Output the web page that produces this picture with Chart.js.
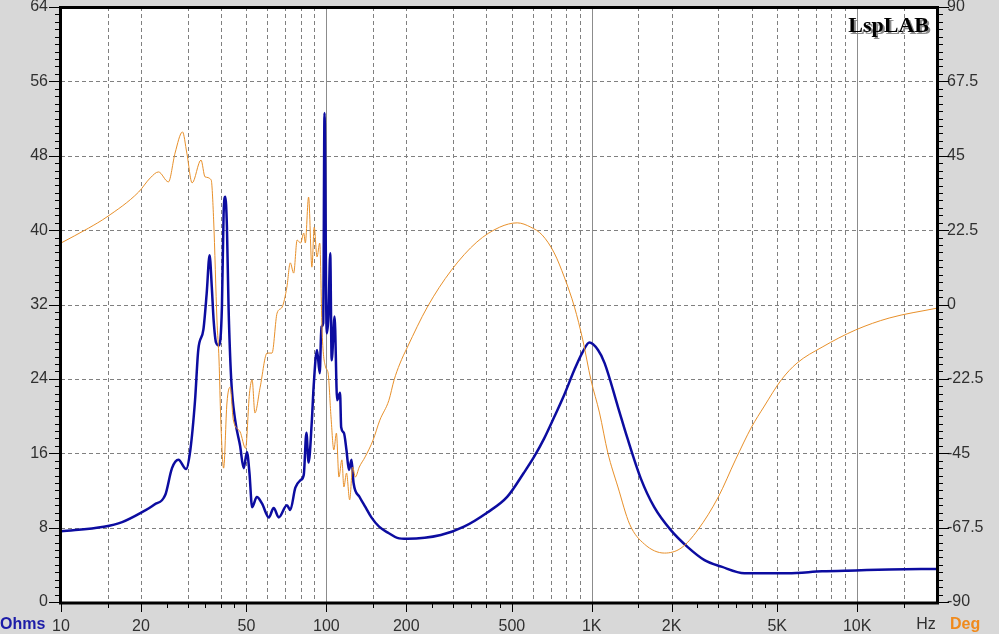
<!DOCTYPE html>
<html>
<head>
<meta charset="utf-8">
<title>Impedance and phase</title>
<script src="https://cdn.jsdelivr.net/npm/chart.js@4.4.1/dist/chart.umd.min.js"></script>
<style>
	html, body { margin: 0; padding: 0; background: #d8d8d8; }
	canvas { display: block; }
</style>
</head>
<body>
<canvas id="chart" width="999" height="634"></canvas>
<script>
// impedance curve (Ohms, left axis)
const impFreq = [10, 14.5, 17, 20, 22.5, 24.7, 26.2, 27.7, 29.6, 30.7, 32, 32.9, 34.4, 35.4, 36.3, 37, 37.6, 38.4, 39.4, 40.4, 41, 41.6, 42.2, 42.8, 43.8, 45.3, 47.3, 48.8, 50.2, 51.3, 52.5, 54.7, 57.2, 60.7, 63.3, 66.2, 71, 73.1, 76.4, 79.9, 82.2, 84.1, 85.7, 88.2, 89.5, 92.2, 94.4, 95.8, 97.3, 98.4, 100.3, 101.8, 103.4, 104.7, 107.4, 109.8, 112.6, 113.7, 116.4, 119.1, 121.6, 124.4, 126.6, 133.4, 140.4, 147.8, 158, 172, 185, 202, 270, 330, 403, 480, 555, 606, 662, 722, 788, 861, 925, 980, 1056, 1118, 1255, 1360, 1530, 1720, 1990, 2300, 2660, 3080, 3760, 5480, 7380, 9870, 13200, 20000];
const impOhms = [7.6, 8.1, 8.6, 9.6, 10.5, 11.5, 14.4, 15.3, 14.3, 16.3, 21.7, 27.1, 29.3, 33.2, 37.3, 33.9, 30.3, 27.9, 27.6, 31.7, 41.8, 43.6, 40.3, 31.7, 23.9, 19.6, 16.8, 14.4, 16.1, 13.9, 10.2, 11.3, 10.6, 9.1, 10.1, 9.1, 10.4, 9.9, 12.3, 13.1, 13.7, 18.2, 15, 19.6, 23.1, 27.1, 24.6, 29.6, 30, 52.6, 28.9, 30.7, 37.5, 26, 30.7, 21.7, 22.5, 18.8, 18.2, 16.3, 14.2, 15.3, 12.8, 11.3, 10.2, 9.1, 8.1, 7.4, 6.9, 6.8, 7.2, 8.1, 9.6, 11.3, 13.9, 15.6, 17.6, 19.9, 22.3, 25, 26.9, 27.9, 27.1, 25.7, 21, 17.7, 13.3, 10.2, 7.7, 5.9, 4.5, 3.8, 3.1, 3.1, 3.3, 3.4, 3.5, 3.55];

// phase curve (degrees, right axis)
const phaseFreq = [10, 12.7, 14.9, 19.6, 21.7, 23.3, 25.4, 26.9, 28.7, 29.8, 31.2, 33.7, 34.9, 36.8, 37.6, 38.7, 39.4, 40, 41, 42.2, 43.4, 44.6, 47.3, 49.6, 51.3, 52.5, 53.8, 56.3, 59.8, 62.4, 65.2, 68.1, 71, 73.1, 75.3, 77.6, 79.9, 82.2, 83.3, 85.7, 88.2, 90, 92.2, 94.4, 96.4, 99.3, 101.5, 104.1, 106.7, 109.1, 111.5, 114.4, 116.4, 119.1, 122.4, 125.6, 128.6, 133, 140, 150, 159, 172, 180, 189, 202, 240, 296, 369, 450, 524, 589, 651, 722, 788, 861, 925, 993, 1070, 1150, 1255, 1390, 1580, 1880, 2170, 2510, 3000, 3480, 4000, 4450, 5180, 5940, 7380, 9870, 13200, 20000];
const phaseDeg = [18.6, 23.1, 26.5, 34, 38.3, 40.1, 37.1, 45.8, 52.2, 45.8, 36.8, 43.7, 38.6, 37.7, 25.6, -4.7, -16.8, -34.9, -49.5, -29.8, -25, -34.9, -38.5, -43.5, -27, -22.8, -32.8, -25, -14.7, -14.7, -2.6, -0.8, 5.3, 12.6, 9.5, 19.5, 18.6, 21.6, 18.6, 32.5, 11.3, 23.4, 14.4, 18.6, -8.6, -18.9, -20.7, -34, -44, -38.9, -52.2, -47, -55.2, -51, -59.1, -49.2, -52.2, -49.2, -46.1, -41, -35, -29, -22.8, -18, -12.9, -0.8, 10.4, 18.9, 23.4, 24.7, 23.4, 21, 15.6, 8.3, -0.8, -10.7, -22.8, -32.8, -44.9, -55.2, -66.5, -72.5, -75.2, -73.7, -68.2, -58.2, -47, -37.1, -31, -22.8, -17.7, -12.9, -7.7, -4.1, -1.1];

// axes
const freqLabelTicks = [10, 20, 50, 100, 200, 500, 1000, 2000, 5000, 10000];
const freqMinorTicks = [15, 25, 30, 35, 40, 45, 150, 250, 300, 350, 400, 450, 1500, 2500, 3000, 3500, 4000, 4500, 15000];
const freqDashedLines = [15, 20, 30, 40, 50, 60, 70, 80, 90, 150, 200, 300, 400, 500, 600, 700, 800, 900, 1500, 2000, 3000, 4000, 5000, 6000, 7000, 8000, 9000, 15000];
const freqSolidLines = [100, 1000, 10000];

const toPoints = (xs, ys) => xs.map((x, i) => ({ x: x, y: ys[i] }));

const framePlugin = {
	id: "frame",
	beforeDraw(chart) {
		const a = chart.chartArea;
		const ctx = chart.ctx;
		ctx.save();
		ctx.fillStyle = "#ffffff";
		ctx.fillRect(a.left, a.top, a.right - a.left, a.bottom - a.top);
		ctx.restore();
	},
	beforeDatasetsDraw(chart) {
		const a = chart.chartArea;
		const ctx = chart.ctx;
		const x = chart.scales.x;
		const y = chart.scales.y;
		ctx.save();
		ctx.lineWidth = 1;
		ctx.strokeStyle = "#808080";
		ctx.setLineDash([4, 3]);
		for (let v = 8; v < 64; v += 8) {
			const py = Math.round(y.getPixelForValue(v)) + 0.5;
			ctx.beginPath();
			ctx.moveTo(a.left, py);
			ctx.lineTo(a.right, py);
			ctx.stroke();
		}
		freqDashedLines.forEach((f) => {
			const px = Math.round(x.getPixelForValue(f)) + 0.5;
			ctx.beginPath();
			ctx.moveTo(px, a.top);
			ctx.lineTo(px, a.bottom);
			ctx.stroke();
		});
		ctx.setLineDash([]);
		ctx.strokeStyle = "#8c8c8c";
		freqSolidLines.forEach((f) => {
			const px = Math.round(x.getPixelForValue(f)) + 0.5;
			ctx.beginPath();
			ctx.moveTo(px, a.top);
			ctx.lineTo(px, a.bottom);
			ctx.stroke();
		});
		ctx.restore();
	},
	afterDatasetsDraw(chart) {
		const a = chart.chartArea;
		const ctx = chart.ctx;
		const x = chart.scales.x;
		const y = chart.scales.y;
		const y2 = chart.scales.y2;
		ctx.save();
		ctx.strokeStyle = "#000000";
		ctx.lineWidth = 1;
		// tick marks
		ctx.beginPath();
		for (let i = 0; i <= 80; i++) {
			const len = i % 10 === 0 ? 12 : 6;
			const py = Math.round(y.getPixelForValue(i * 0.8)) + 0.5;
			ctx.moveTo(a.left - len, py);
			ctx.lineTo(a.left, py);
			const py2 = Math.round(y2.getPixelForValue(-90 + i * 2.25)) + 0.5;
			ctx.moveTo(a.right, py2);
			ctx.lineTo(a.right + len, py2);
		}
		freqLabelTicks.forEach((f) => {
			const px = Math.round(x.getPixelForValue(f)) + 0.5;
			ctx.moveTo(px, a.bottom);
			ctx.lineTo(px, a.bottom + 10);
		});
		freqMinorTicks.forEach((f) => {
			const px = Math.round(x.getPixelForValue(f)) + 0.5;
			ctx.moveTo(px, a.bottom);
			ctx.lineTo(px, a.bottom + 6);
		});
		ctx.stroke();
		// frame
		ctx.lineWidth = 3;
		ctx.strokeRect(a.left - 0.5, a.top + 0.5, a.right - a.left + 1, a.bottom - a.top + 0.5);
		// unit labels
		ctx.font = "bold 16px 'Liberation Sans', Arial, sans-serif";
		ctx.textBaseline = "middle";
		ctx.textAlign = "left";
		ctx.fillStyle = "#1c1ca8";
		ctx.fillText("Ohms", 0, 625);
		ctx.fillStyle = "#f08a1c";
		ctx.fillText("Deg", 950, 625);
		ctx.font = "16px 'Liberation Sans', Arial, sans-serif";
		ctx.fillStyle = "#303030";
		ctx.textAlign = "center";
		ctx.fillText("Hz", 926, 625);
		// watermark
		ctx.font = "bold 22px 'Liberation Serif', 'Times New Roman', serif";
		ctx.textAlign = "right";
		ctx.textBaseline = "alphabetic";
		ctx.fillStyle = "#8a8a8a";
		ctx.fillText("LspLAB", 931, 34);
		ctx.fillStyle = "#000000";
		ctx.fillText("LspLAB", 929, 32);
		ctx.restore();
	},
};

const tickFont = { family: "'Liberation Sans', Arial, sans-serif", size: 16 };
const tickColor = "#303030";

new Chart(document.getElementById("chart"), {
	type: "line",
	data: {
		datasets: [
			{
				label: "Phase",
				data: toPoints(phaseFreq, phaseDeg),
				yAxisID: "y2",
				borderColor: "#e8902a",
				borderWidth: 1,
				pointRadius: 0,
				cubicInterpolationMode: "monotone",
				order: 0,
			},
			{
				label: "Impedance",
				data: toPoints(impFreq, impOhms),
				yAxisID: "y",
				borderColor: "#0c0ca0",
				borderWidth: 2.5,
				pointRadius: 0,
				cubicInterpolationMode: "monotone",
				order: 1,
			},
		],
	},
	options: {
		responsive: false,
		animation: false,
		devicePixelRatio: 1,
		layout: { padding: { top: 7, left: 0, right: 0, bottom: 0 } },
		plugins: {
			legend: { display: false },
			tooltip: { enabled: false },
		},
		scales: {
			x: {
				type: "logarithmic",
				min: 10,
				max: 20000,
				grid: { display: false, drawTicks: false },
				border: { display: false },
				afterBuildTicks: (scale) => {
					scale.ticks = freqLabelTicks.map((v) => ({ value: v }));
				},
				afterFit: (scale) => {
					scale.height = 32;
					scale.paddingLeft = 0;
					scale.paddingRight = 0;
				},
				ticks: {
					autoSkip: false,
					maxRotation: 0,
					padding: 15,
					font: tickFont,
					color: tickColor,
					callback: (v) => (v >= 1000 ? v / 1000 + "K" : String(v)),
				},
			},
			y: {
				position: "left",
				min: 0,
				max: 64,
				grid: { display: false, drawTicks: false },
				border: { display: false },
				afterFit: (scale) => {
					scale.width = 61;
					scale.paddingTop = 0;
					scale.paddingBottom = 0;
				},
				ticks: { stepSize: 8, padding: 13, font: tickFont, color: tickColor },
			},
			y2: {
				position: "right",
				min: -90,
				max: 90,
				grid: { display: false, drawTicks: false },
				border: { display: false },
				afterFit: (scale) => {
					scale.width = 62;
					scale.paddingTop = 0;
					scale.paddingBottom = 0;
				},
				ticks: {
					stepSize: 22.5,
					padding: 10,
					font: tickFont,
					color: tickColor,
					callback: (v) => String(v),
				},
			},
		},
	},
	plugins: [framePlugin],
});
</script>
</body>
</html>
